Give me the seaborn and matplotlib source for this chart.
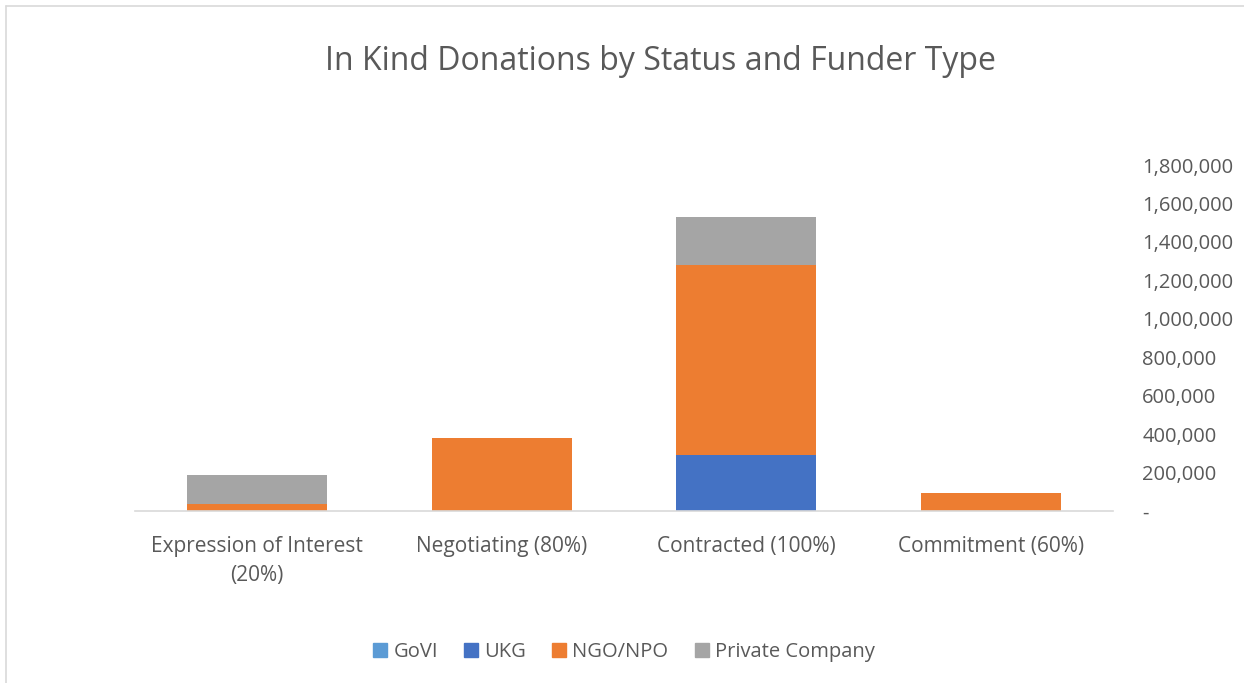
import numpy as np
import pandas as pd
import matplotlib.pyplot as plt
import seaborn as sns
from matplotlib.lines import Line2D
from matplotlib.ticker import FuncFormatter

# --- chart data ---
statuses = ["Expression of Interest\n(20%)", "Negotiating (80%)", "Contracted (100%)", "Commitment (60%)"]
funders = ["GoVI", "UKG", "NGO/NPO", "Private Company"]
govi = [0, 0, 0, 0]
ukg = [0, 0, 290000, 0]
ngo_npo = [35000, 378000, 991000, 95000]
private_company = [152000, 0, 251000, 0]
colors = ["#5B9BD5", "#4472C4", "#ED7D31", "#A5A5A5"]
y_ticks = [0, 200000, 400000, 600000, 800000, 1000000, 1200000, 1400000, 1600000, 1800000]

series = [govi, ukg, ngo_npo, private_company]

sns.set_style("white")
plt.rcParams['font.family'] = ['Open Sans', 'DejaVu Sans']
text_color = "#595959"

fig = plt.figure(figsize=(12.44, 6.83), dpi=100)
W, H = 1244, 683
ax = fig.add_axes([135 / W, 1 - 511 / H, (1113 - 135) / W, (511 - 165) / H])

# stack the funder types bottom to top
bottoms = np.zeros(len(statuses))
for name, vals, col in zip(funders, series, colors):
    sns.barplot(x=statuses, y=vals, bottom=bottoms, color=col, saturation=1, width=0.572,
                linewidth=0, errorbar=None, label=name, ax=ax)
    bottoms = bottoms + np.array(vals)
if ax.get_legend() is not None:
    ax.get_legend().remove()

ax.set_xlim(-0.5, len(statuses) - 0.5)
ax.set_ylim(0, 1800000)
ax.set_yticks(y_ticks)
ax.yaxis.tick_right()
ax.yaxis.set_major_formatter(FuncFormatter(lambda v, p: "-" if v == 0 else f"{int(v):,}"))
ax.tick_params(axis="both", length=0, colors=text_color)
ax.tick_params(axis="x", pad=18, labelsize=15)
ax.tick_params(axis="y", pad=21, labelsize=14.5)
for lbl in ax.get_yticklabels():
    lbl.set_horizontalalignment("left")
for lbl in ax.get_xticklabels():
    lbl.set_linespacing(1.5)
ax.set_xlabel("")
ax.set_ylabel("")

for side in ["top", "right", "left"]:
    ax.spines[side].set_visible(False)
ax.spines["bottom"].set_color("#D9D9D9")
ax.spines["bottom"].set_linewidth(1.2)
ax.grid(False)

fig.text(660 / W, 1 - 61 / H, "In Kind Donations by Status and Funder Type",
         ha="center", va="center", fontsize=23, color=text_color)

handles = [plt.Rectangle((0, 0), 1, 1, color=c) for c in colors]
fig.legend(handles, funders, loc="center", bbox_to_anchor=(624 / W, 1 - 652 / H),
           ncol=4, frameon=False, fontsize=14.5, labelcolor=text_color,
           handlelength=0.7, handleheight=0.7, handletextpad=0.3, columnspacing=1.3)

# light chart border (top and left edges only, as in the reference)
fig.add_artist(Line2D([6 / W, 6 / W], [0, 1 - 6 / H], transform=fig.transFigure, color="#D9D9D9", lw=1.2))
fig.add_artist(Line2D([6 / W, 1], [1 - 6 / H, 1 - 6 / H], transform=fig.transFigure, color="#D9D9D9", lw=1.2))

fig.savefig("out.png", dpi=100, facecolor="white")
